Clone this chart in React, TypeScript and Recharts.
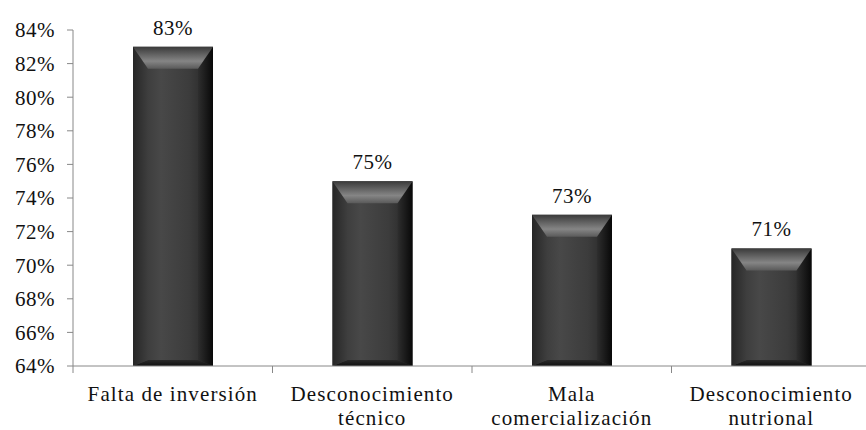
import React from 'react';
import { BarChart, Bar, XAxis, YAxis, LabelList } from 'recharts';

const categories = [
  'Falta de inversión',
  'Desconocimiento técnico',
  'Mala comercialización',
  'Desconocimiento nutrional',
];
// etiquetas en dos líneas, como en la figura
const tickLines = [
  ['Falta de inversión'],
  ['Desconocimiento', 'técnico'],
  ['Mala', 'comercialización'],
  ['Desconocimiento', 'nutrional'],
];
const values = [0.83, 0.75, 0.73, 0.71];
const yTicks = [0.64, 0.66, 0.68, 0.7, 0.72, 0.74, 0.76, 0.78, 0.8, 0.82, 0.84];

const data = categories.map((name, i) => ({ name, value: values[i] }));

const FONT = '"Liberation Serif", "Times New Roman", serif';
const pct = (v: number) => `${Math.round(v * 100)}%`;

if (typeof document !== 'undefined') document.body.style.margin = '0';

const BevelBar = (props: any) => {
  const { x, y, width, height } = props;
  const b = Math.min(22, height / 2);
  const s = 15;
  const bb = 6;
  return (
    <g>
      <rect x={x} y={y} width={width} height={height} fill="url(#barBody)" />
      <polygon
        points={`${x},${y + height} ${x + s},${y + height - bb} ${x + width - s},${y + height - bb} ${x + width},${y + height}`}
        fill="url(#barBottom)"
      />
      <polygon
        points={`${x},${y} ${x + s},${y + b} ${x + s},${y + height - bb} ${x},${y + height}`}
        fill="url(#barLeft)"
      />
      <polygon
        points={`${x + width},${y} ${x + width - s},${y + b} ${x + width - s},${y + height - bb} ${x + width},${y + height}`}
        fill="url(#barRight)"
      />
      <polygon
        points={`${x},${y} ${x + width},${y} ${x + width - s},${y + b} ${x + s},${y + b}`}
        fill="url(#barTop)"
      />
    </g>
  );
};

const XTick = (props: any) => {
  const { x, y, payload, index, visibleTicksCount } = props;
  const half = payload.offset || 0;
  const lines: string[] = tickLines[index] || [payload.value];
  return (
    <g>
      <line x1={x - half} x2={x - half} y1={y - 8} y2={y - 1} stroke="#888" />
      {index === visibleTicksCount - 1 && (
        <line x1={x + half} x2={x + half} y1={y - 8} y2={y - 1} stroke="#888" />
      )}
      <text x={x} y={y + 27} textAnchor="middle" fontFamily={FONT} fontSize={21} letterSpacing={1.1} fill="#111">
        {lines.map((l, i) => (
          <tspan key={i} x={x} dy={i === 0 ? 0 : 24}>{l}</tspan>
        ))}
      </text>
    </g>
  );
};

export default function App() {
  return (
    <div style={{ width: 866, height: 430, background: '#fff', overflow: 'hidden' }}>
      <BarChart width={866} height={430} data={data} margin={{ top: 30, right: -5, left: 0, bottom: 0 }} style={{ overflow: 'visible' }}>
        <defs>
          <linearGradient id="barBody" x1="0" y1="0" x2="1" y2="0">
            <stop offset="0%" stopColor="#333" />
            <stop offset="35%" stopColor="#484848" />
            <stop offset="70%" stopColor="#3c3c3c" />
            <stop offset="100%" stopColor="#222" />
          </linearGradient>
          <linearGradient id="barTop" x1="0" y1="0" x2="0" y2="1">
            <stop offset="0%" stopColor="#3a3a3a" />
            <stop offset="65%" stopColor="#858585" />
            <stop offset="100%" stopColor="#5a5a5a" />
          </linearGradient>
          <linearGradient id="barLeft" x1="0" y1="0" x2="1" y2="0">
            <stop offset="0%" stopColor="#262626" />
            <stop offset="100%" stopColor="#3e3e3e" />
          </linearGradient>
          <linearGradient id="barRight" x1="0" y1="0" x2="1" y2="0">
            <stop offset="0%" stopColor="#2e2e2e" />
            <stop offset="100%" stopColor="#080808" />
          </linearGradient>
          <linearGradient id="barBottom" x1="0" y1="0" x2="0" y2="1">
            <stop offset="0%" stopColor="#2a2a2a" />
            <stop offset="100%" stopColor="#111" />
          </linearGradient>
        </defs>
        <XAxis
          dataKey="name"
          height={64}
          axisLine={{ stroke: '#888' }}
          tickLine={false}
          tick={<XTick />}
          interval={0}
        />
        <YAxis
          width={73}
          domain={[0.64, 0.84]}
          ticks={yTicks}
          tickFormatter={pct}
          axisLine={{ stroke: '#888' }}
          tickLine={{ stroke: '#888' }}
          tickSize={6}
          tickMargin={12}
          tick={{ fontFamily: FONT, fontSize: 21, fill: '#111', letterSpacing: 0.5 }}
          allowDataOverflow
        />
        <Bar dataKey="value" barSize={80} shape={<BevelBar />} isAnimationActive={false}>
          <LabelList
            dataKey="value"
            position="top"
            offset={12}
            formatter={(v: any) => pct(Number(v))}
            style={{ fontFamily: FONT, fontSize: 21, fill: '#111', letterSpacing: 0.5 }}
          />
        </Bar>
      </BarChart>
    </div>
  );
}
